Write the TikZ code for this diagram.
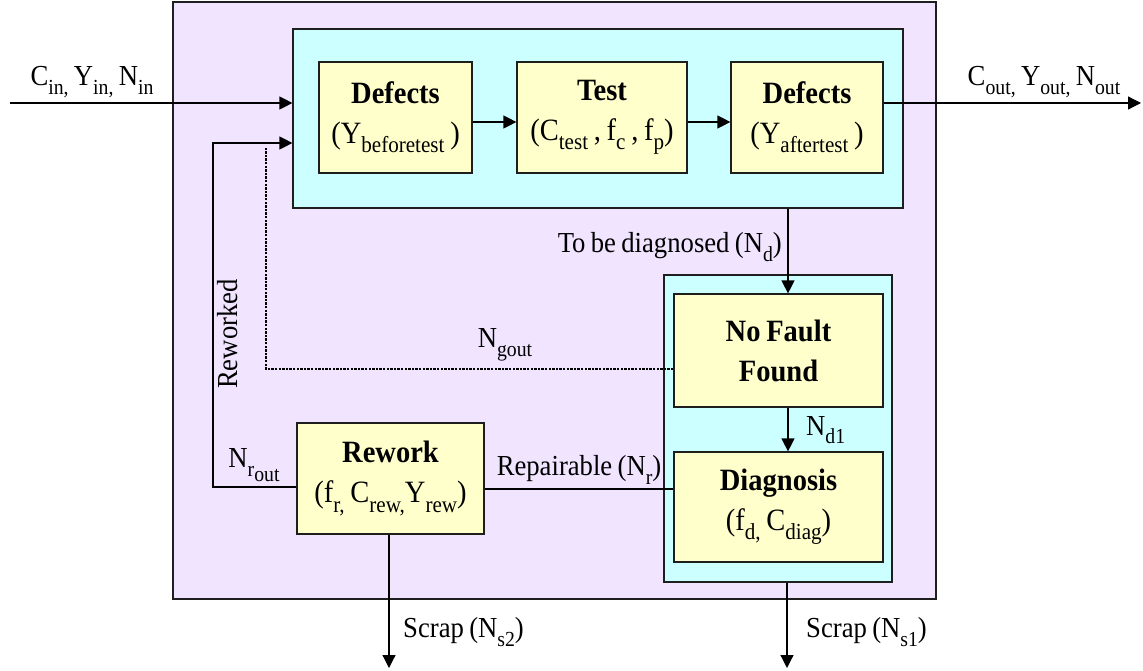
\documentclass[tikz,border=0pt]{standalone}
\usepackage{fontspec}
\setmainfont{Liberation Serif}[FakeStretch=0.92, WordSpace=0.8]
\usetikzlibrary{arrows.meta}
\definecolor{lav}{RGB}{240,228,255}
\definecolor{cyn}{RGB}{204,255,255}
\definecolor{ylw}{RGB}{255,255,204}
\definecolor{edge}{RGB}{30,30,30}
\newcommand\sbs[1]{\raisebox{-0.3em}{\scalebox{0.74}{#1}}}
\tikzset{
  frame/.style={draw=edge, line width=1.2pt, inner sep=0pt},
  box/.style={frame, fill=ylw, align=center, font=\fontsize{31}{40}\selectfont},
  lbl/.style={font=\fontsize{29}{32}\selectfont, inner sep=0pt},
  ln/.style={draw=black, line width=1.2pt},
  arr/.style={ln, -{Triangle[length=13pt,width=13pt]}},
  dotline/.style={draw=black, line width=2.2pt, dash pattern=on 2.4pt off 1.2pt}
}
\begin{document}
\begin{tikzpicture}[x=1pt,y=-1pt]
\useasboundingbox (0,0) rectangle (1143,671);
% containers
\node[frame, fill=lav, minimum width=763, minimum height=597] (outer) at (554.5,300.5) {};
\node[frame, fill=cyn, minimum width=610, minimum height=179] (cyan1) at (598,118.5) {};
\node[frame, fill=cyn, minimum width=228, minimum height=307] (cyan2) at (778,428.5) {};
% boxes
\node[box, minimum width=153, minimum height=111] (def1) at (395.5,117.5) {{\bfseries Defects}\\(Y\sbs{beforetest} )};
\node[box, minimum width=170, minimum height=111] (test) at (602,117.5) {{\bfseries Test}\\(C\sbs{test} , f\sbs{c} , f\sbs{p})};
\node[box, minimum width=152, minimum height=111] (def2) at (807,117.5) {{\bfseries Defects}\\(Y\sbs{aftertest} )};
\node[box, minimum width=209, minimum height=113] (nff) at (778.5,350.5) {\bfseries No Fault\\\bfseries Found};
\node[box, minimum width=209, minimum height=110] (diag) at (778.5,507) {{\bfseries Diagnosis}\\(f\sbs{d,} C\sbs{diag})};
\node[box, minimum width=187, minimum height=111] (rework) at (390.5,478.5) {{\bfseries Rework}\\(f\sbs{r,} C\sbs{rew,}Y\sbs{rew})};
% helper coordinates
\coordinate (inS) at (10,103);
\coordinate (outE) at (1141,103);
\coordinate (dcol) at (788,0);
\coordinate (loopC) at (213,143);
\coordinate (dotC) at (266,147);
\coordinate (s1) at (787,668);
\coordinate (s2) at (389,668);
% connectors
\draw[arr] (inS) -- (inS -| cyan1.west);
\draw[arr] (outE -| def2.east) -- (outE);
\draw[arr] ([yshift=-4.5pt]def1.east) -- ([yshift=-4.5pt]test.west);
\draw[arr] ([yshift=-4.5pt]test.east) -- ([yshift=-4.5pt]def2.west);
\draw[arr] (cyan1.south -| dcol) -- (nff.north -| dcol);
\draw[arr] (nff.south -| dcol) -- (diag.north -| dcol);
\draw[arr] (cyan2.south -| s1) -- (s1);
\draw[arr] (rework.south -| s2) -- (s2);
\draw[ln] ([yshift=-10.5pt]rework.east) -- ([yshift=18pt]diag.west);
\draw[arr] ([yshift=-8.5pt]rework.west) -| (loopC) -- (loopC -| cyan1.west);
\draw[dotline] ([yshift=-18.5pt]nff.west) -| (dotC);
% labels
\node[lbl] (lin) at (92,82) {C\sbs{in,} Y\sbs{in,} N\sbs{in}};
\node[lbl] (lout) at (1044,82) {C\sbs{out,} Y\sbs{out,} N\sbs{out}};
\node[lbl, anchor=east] (ltbd) at (782,247) {To be diagnosed (N\sbs{d})};
\node[lbl] (lgout) at (505,345) {N\sbs{gout}};
\node[lbl, anchor=west] (ld1) at (806,430) {N\sbs{d1}};
\node[lbl] (lrep) at (579,470) {Repairable (N\sbs{r})};
\node[lbl] (lrout) at (254,465) {N\sbs{r\raisebox{-0.25em}{out}}};
\node[lbl, rotate=90] (lrew) at (228,334) {Reworked};
\node[lbl, anchor=west] (ls2) at (403,632) {Scrap (N\sbs{s2})};
\node[lbl, anchor=west] (ls1) at (806,632) {Scrap (N\sbs{s1})};
\end{tikzpicture}
\end{document}
